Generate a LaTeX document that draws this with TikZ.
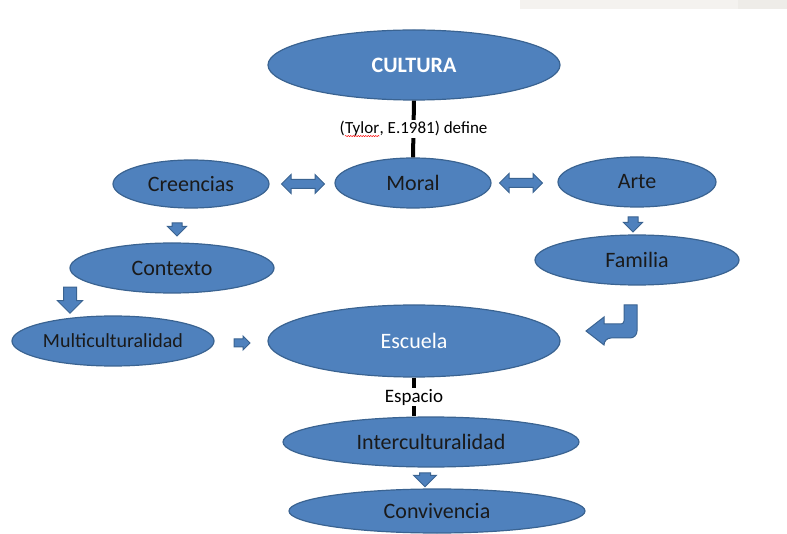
\documentclass[tikz,border=0pt]{standalone}
\usepackage{fontspec}
\setmainfont{Carlito}
\usepackage{tikz}
\usetikzlibrary{shapes.geometric,shapes.arrows}
\usetikzlibrary{decorations.pathmorphing}
\usepackage{xcolor}
\definecolor{ovalblue}{HTML}{4F81BD}
\definecolor{ovalline}{HTML}{3A6391}
\definecolor{inktext}{HTML}{1A1A1A}
\definecolor{stripgray}{HTML}{F4F2EF}
\definecolor{stripdark}{HTML}{EEECE8}
\newcommand\spellmark[1]{\tikz[baseline=(w.base)]{\node[inner sep=0pt] (w) {#1};
  \draw[red,line width=0.5pt,decorate,decoration={snake,amplitude=0.6pt,segment length=2.5pt}]
  ([yshift=-2.5pt]w.base west) -- ([yshift=-2.5pt]w.base east);}}
\tikzset{
  oval/.style={ellipse, fill=ovalblue, draw=ovalline, line width=1.2pt, inner sep=0pt,
    text=inktext, font=\fontsize{22}{26}\selectfont},
  whiteoval/.style={oval, text=white},
  bond/.style={line width=4pt, black},
  bondlabel/.style={fill=white, inner sep=1pt, text=black, font=\fontsize{17}{20}\selectfont},
  blockarrow/.style={fill=ovalblue, draw=ovalline, line width=1pt},
  sarrow/.style={blockarrow, single arrow, inner xsep=0pt, single arrow head indent=0pt},
  darrow/.style={blockarrow, double arrow, inner xsep=0pt, double arrow head indent=0pt}
}
\begin{document}
\begin{tikzpicture}[x=1pt,y=-1pt]
   \useasboundingbox (0,0) rectangle (787,534);
   \fill[stripgray] (520,0) rectangle (787,9);
   \fill[stripdark] (738,0) rectangle (787,9);

   \node[whiteoval, minimum width=292, minimum height=70] (cultura) at (414,65) {\textbf{CULTURA}};
   \node[oval, minimum width=156, minimum height=50] (moral) at (413,183) {Moral};
   \node[oval, minimum width=156, minimum height=48] (creencias) at (191,184) {Creencias};
   \node[oval, minimum width=158, minimum height=50] (arte) at (637,182) {Arte};
   \node[oval, minimum width=204, minimum height=50] (contexto) at (172,268) {Contexto};
   \node[oval, minimum width=204, minimum height=50] (familia) at (637,260) {Familia};
   \node[oval, minimum width=202, minimum height=50, font=\fontsize{20}{24}\selectfont] (multi) at (113,341) {Multiculturalidad};
   \node[whiteoval, minimum width=292, minimum height=72] (escuela) at (414,341) {Escuela};
   \node[oval, minimum width=296, minimum height=50] (inter) at (431,442) {Interculturalidad};
   \node[oval, minimum width=296, minimum height=44] (conv) at (437,511) {Convivencia};

   \draw[bond] (cultura.south) -- node[bondlabel] {(\spellmark{Tylor}, E.1981) define} (moral.north);
   \draw[bond] (escuela.south) -- node[bondlabel, font=\fontsize{19}{22}\selectfont] {Espacio} (escuela.south |- inter.north);

   \node[darrow, minimum height=43, inner ysep=4pt, double arrow head extend=5pt] (a_cm) at (303,184) {};
   \node[darrow, minimum height=43, inner ysep=4pt, double arrow head extend=5pt] (a_ma) at (521,183) {};
   \node[sarrow, rotate=270, minimum height=13, inner ysep=4.5pt, single arrow head extend=4.5pt] (a_cc) at (177,227) {};
   \node[sarrow, rotate=270, minimum height=15, inner ysep=4.5pt, single arrow head extend=4.5pt] (a_af) at (633,222) {};
   \node[sarrow, rotate=270, minimum height=26, inner ysep=6pt, single arrow head extend=6pt] (a_cx) at (70,297) {};
   \node[sarrow, minimum height=16, inner ysep=3.5pt, single arrow head extend=3pt] (a_me) at (240,343) {};
   \node[sarrow, rotate=270, minimum height=14, inner ysep=5pt, single arrow head extend=6pt] (a_ic) at (425,477) {};
   \draw[blockarrow] (624,305) -- (637,305) [rounded corners=7pt] -- (637,338) -- (604,338)
     [sharp corners] -- (604,345) -- (586,331) -- (604,317) -- (604,324)
     [rounded corners=3pt] -- (624,324) [sharp corners] -- cycle;
\end{tikzpicture}
\end{document}
